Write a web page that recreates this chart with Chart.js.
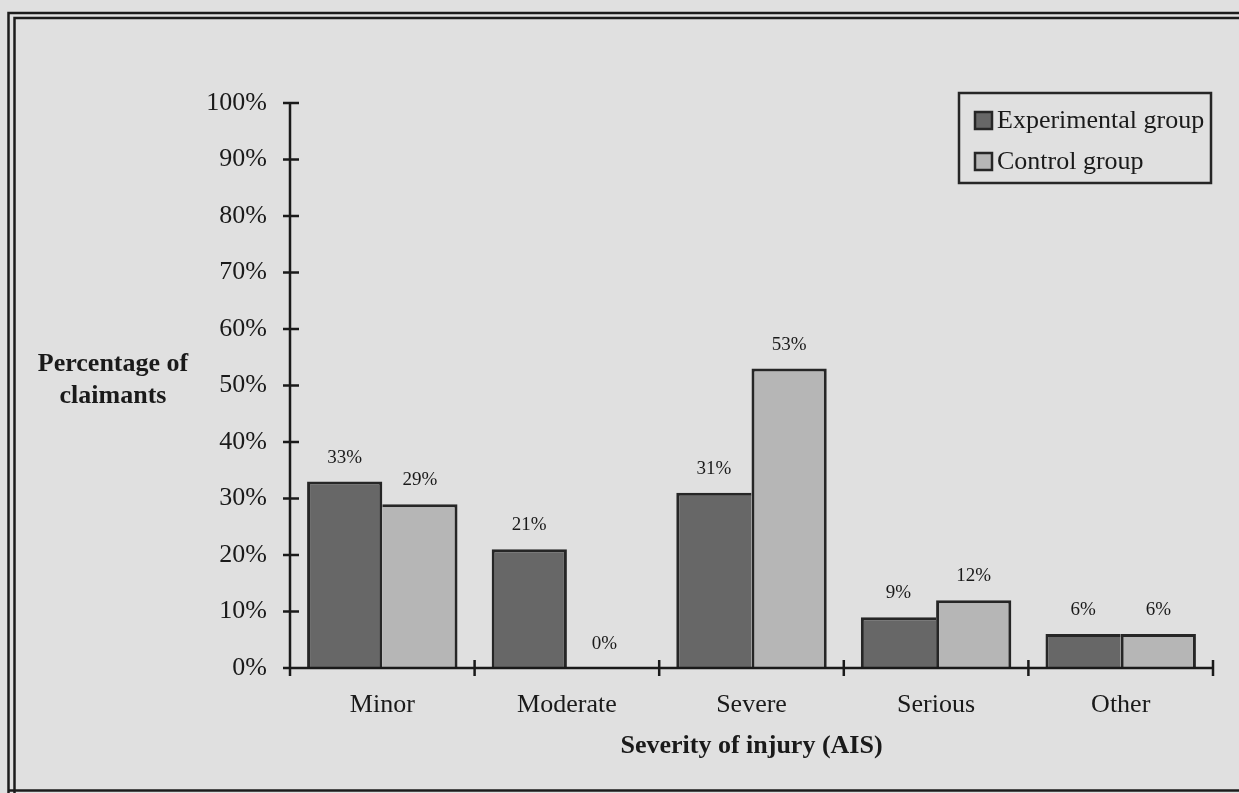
<!DOCTYPE html>
<html>
<head>
<meta charset="utf-8">
<title>Severity of injury (AIS)</title>
<script src="https://cdn.jsdelivr.net/npm/chart.js@4.4.1/dist/chart.umd.min.js"></script>
<style>
  html, body { margin: 0; padding: 0; background: #e0e0e0; }
  canvas { display: block; }
</style>
</head>
<body>
<canvas id="chart" width="1239" height="793"></canvas>
<script>
// ---- data ----
const categories = ['Minor', 'Moderate', 'Severe', 'Serious', 'Other'];
const experimentalGroup = [33, 21, 31, 9, 6];
const controlGroup = [29, 0, 53, 12, 6];
const seriesNames = ['Experimental group', 'Control group'];
const yTicks = [0, 10, 20, 30, 40, 50, 60, 70, 80, 90, 100];
const yAxisTitleLines = ['Percentage of', 'claimants'];
const xAxisTitle = 'Severity of injury (AIS)';

// ---- styling ----
const SERIF = "'Liberation Serif', 'Times New Roman', serif";
const INK = '#1a1a1a';
const PAPER = '#e0e0e0';
const EXP_FILL = '#676767';
const CTRL_FILL = '#b6b6b6';
const EDGE = '#262626';
const EDGE_W = 3;

// Shared edge between paired bars is drawn once, by whichever bar is taller.
const expBorder = ctx => ({
  top: EDGE_W, left: EDGE_W, bottom: 0,
  right: controlGroup[ctx.dataIndex] < experimentalGroup[ctx.dataIndex] ? EDGE_W : 0
});
const ctrlBorder = ctx => ({
  top: EDGE_W, right: EDGE_W, bottom: 0,
  left: controlGroup[ctx.dataIndex] < experimentalGroup[ctx.dataIndex] ? 0 : EDGE_W
});

// Paper background and the double-ruled frame.
const framePlugin = {
  id: 'frame',
  beforeDraw(chart) {
    const { ctx, width, height } = chart;
    ctx.save();
    ctx.fillStyle = PAPER;
    ctx.fillRect(0, 0, width, height);
    ctx.strokeStyle = '#1c1c1c';
    ctx.lineWidth = 2.5;
    ctx.beginPath();
    // outer rule
    ctx.moveTo(width, 13); ctx.lineTo(8.5, 13); ctx.lineTo(8.5, height);
    // inner rule
    ctx.moveTo(width, 18); ctx.lineTo(14.5, 18); ctx.lineTo(14.5, height);
    // bottom rule
    ctx.moveTo(8.5, 790.5); ctx.lineTo(width, 790.5);
    ctx.stroke();
    ctx.restore();
  }
};

// Axis lines with tick marks crossing them.
const axesPlugin = {
  id: 'crossAxes',
  afterDatasetsDraw(chart) {
    const { ctx, chartArea } = chart;
    const xs = chart.scales.x, ys = chart.scales.y;
    const { left, right, bottom } = chartArea;
    ctx.save();
    ctx.strokeStyle = INK;
    ctx.lineWidth = 2.5;
    ctx.beginPath();
    ctx.moveTo(left, ys.getPixelForValue(ys.max));
    ctx.lineTo(left, bottom + 8);
    ys.ticks.forEach(t => {
      const py = ys.getPixelForValue(t.value);
      ctx.moveTo(left - 7, py);
      ctx.lineTo(left + 9, py);
    });
    ctx.moveTo(left, bottom);
    ctx.lineTo(right, bottom);
    for (let i = 0; i <= categories.length; i++) {
      const px = xs.getPixelForValue(i - 0.5);
      ctx.moveTo(px, bottom - 8);
      ctx.lineTo(px, bottom + 8);
    }
    ctx.stroke();
    ctx.restore();
  }
};

// Percentage printed above every bar.
const valueLabelPlugin = {
  id: 'valueLabels',
  afterDatasetsDraw(chart) {
    const { ctx } = chart;
    ctx.save();
    ctx.font = `19px ${SERIF}`;
    ctx.fillStyle = INK;
    ctx.textAlign = 'center';
    ctx.textBaseline = 'middle';
    chart.data.datasets.forEach((ds, di) => {
      chart.getDatasetMeta(di).data.forEach((bar, i) => {
        ctx.fillText(ds.data[i] + '%', bar.x, bar.y - 24);
      });
    });
    ctx.restore();
  }
};

// Horizontal two-line y-axis title and the boxed legend.
const annotationsPlugin = {
  id: 'annotations',
  afterDraw(chart) {
    const { ctx, chartArea } = chart;
    ctx.save();
    ctx.fillStyle = INK;
    ctx.font = `bold 26px ${SERIF}`;
    ctx.textAlign = 'center';
    ctx.textBaseline = 'middle';
    yAxisTitleLines.forEach((line, i) => {
      ctx.fillText(line, 113, 364 + i * 32);
    });

    // legend
    const boxRight = chartArea.right - 2;
    const boxLeft = boxRight - 252;
    const boxTop = chartArea.top - 10;
    const boxH = 90;
    ctx.strokeStyle = EDGE;
    ctx.lineWidth = 2.5;
    ctx.strokeRect(boxLeft, boxTop, boxRight - boxLeft, boxH);
    ctx.font = `26px ${SERIF}`;
    ctx.textAlign = 'left';
    chart.data.datasets.forEach((ds, i) => {
      const cy = boxTop + 27 + i * 41;
      const sx = boxLeft + 16;
      ctx.fillStyle = ds.backgroundColor;
      ctx.fillRect(sx, cy - 8, 17, 17);
      ctx.strokeStyle = EDGE;
      ctx.lineWidth = 2.5;
      ctx.strokeRect(sx, cy - 8, 17, 17);
      ctx.fillStyle = INK;
      ctx.fillText(ds.label, sx + 22, cy + 1);
    });
    ctx.restore();
  }
};

new Chart(document.getElementById('chart'), {
  type: 'bar',
  data: {
    labels: categories,
    datasets: [
      {
        label: seriesNames[0],
        data: experimentalGroup,
        backgroundColor: EXP_FILL,
        borderColor: EDGE,
        borderWidth: expBorder,
        borderSkipped: false,
        categoryPercentage: 0.815,
        barPercentage: 1.0
      },
      {
        label: seriesNames[1],
        data: controlGroup,
        backgroundColor: CTRL_FILL,
        borderColor: EDGE,
        borderWidth: ctrlBorder,
        borderSkipped: false,
        categoryPercentage: 0.815,
        barPercentage: 1.0
      }
    ]
  },
  options: {
    responsive: false,
    devicePixelRatio: 1,
    animation: false,
    layout: { padding: { left: 0, top: 103, right: 26, bottom: 25 } },
    plugins: {
      legend: { display: false },
      tooltip: { enabled: false },
      title: { display: false }
    },
    scales: {
      x: {
        grid: { display: false, drawTicks: false },
        border: { display: false },
        ticks: {
          color: INK,
          font: { family: SERIF, size: 26 },
          padding: 22,
          maxRotation: 0
        },
        title: {
          display: true,
          text: xAxisTitle,
          color: INK,
          font: { family: SERIF, size: 26, weight: 'bold' },
          padding: { top: 0, bottom: 6 }
        },
        afterFit(scale) { scale.height = 100; }
      },
      y: {
        min: yTicks[0],
        max: yTicks[yTicks.length - 1],
        grid: { display: false, drawTicks: false },
        border: { display: false },
        afterBuildTicks(scale) { scale.ticks = yTicks.map(v => ({ value: v })); },
        ticks: {
          color: INK,
          font: { family: SERIF, size: 26 },
          padding: 23,
          callback: v => v + '%'
        },
        afterFit(scale) { scale.width = 290; }
      }
    }
  },
  plugins: [framePlugin, axesPlugin, valueLabelPlugin, annotationsPlugin]
});
</script>
</body>
</html>
